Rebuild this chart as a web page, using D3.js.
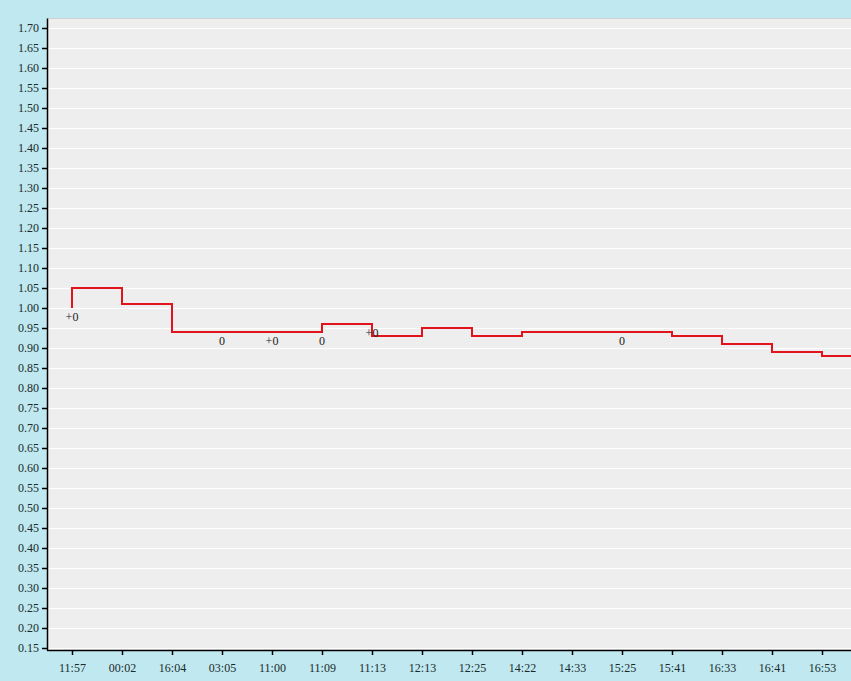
<!DOCTYPE html>
<html><head><meta charset="utf-8">
<script src="https://cdn.jsdelivr.net/npm/d3@7"></script>
<style>body{margin:0;background:#c0e8f0;}svg{display:block}</style>
</head><body><svg id="c" width="851" height="681"></svg>
<script>
const categories=["11:57","00:02","16:04","03:05","11:00","11:09","11:13","12:13","12:25","14:22","14:33","15:25","15:41","16:33","16:41","16:53"];
const values=[1.05,1.01,0.94,0.94,0.94,0.96,0.93,0.95,0.93,0.94,0.94,0.94,0.93,0.91,0.89,0.88];
const startValue=1.00;
const labelIdx=[0,3,4,5,6,11];
const labelText=["+0","0","+0","0","+0","0"];
const labelVal=[1.00,0.94,0.94,0.94,0.96,0.94];
const yTicks=d3.range(0.15,1.7001,0.05);

const svg=d3.select("#c");
const L=47,R=851,T=18,B=650;
const x=d3.scaleLinear().domain([0,1]).range([72,122]);
const y=d3.scaleLinear().domain([0.145,1.725]).range([B,T]);
svg.append("rect").attr("x",L).attr("y",T).attr("width",R-L).attr("height",B-T).attr("fill","#eeeeee");
svg.append("line").attr("x1",L).attr("x2",R).attr("y1",T+0.5).attr("y2",T+0.5).attr("stroke","#d0d0d0");
svg.selectAll(".g").data(yTicks).join("line").attr("x1",L).attr("x2",R)
 .attr("y1",d=>Math.round(y(d))+0.5).attr("y2",d=>Math.round(y(d))+0.5).attr("stroke","#fff");
const yAx=svg.append("g").attr("transform",`translate(${L},0)`).call(d3.axisLeft(y).tickValues(yTicks).tickFormat(d3.format(".2f")).tickSize(5).tickSizeOuter(0));
const xAx=svg.append("g").attr("transform",`translate(0,${B})`).call(d3.axisBottom(x).tickValues(d3.range(categories.length)).tickFormat(i=>categories[i]).tickSize(5).tickSizeOuter(0));
xAx.select(".domain").attr("d",`M${L},0.5H${R}`);
[yAx,xAx].forEach(a=>{a.selectAll("text").attr("font-family","Liberation Serif").attr("font-size",12).attr("fill","#1a2a2a");
 a.selectAll("line,path").attr("stroke","#000").attr("stroke-width",1.5);});
xAx.selectAll("text").attr("dy","1.2em");
const pts=[[x(0),y(startValue)]].concat(values.map((v,i)=>[x(i),y(v)]));
pts.push([R,y(values[values.length-1])]);
svg.append("path").attr("d",d3.line().curve(d3.curveStepAfter)(pts)).attr("fill","none").attr("stroke","#e0141a").attr("stroke-width",2);
svg.selectAll(".lb").data(labelIdx).join("text").attr("x",i=>x(i)).attr("y",(i,k)=>y(labelVal[k])+13)
 .attr("text-anchor","middle").attr("font-family","Liberation Serif").attr("font-size",12).attr("fill","#222").text((i,k)=>labelText[k]);
</script></body></html>
